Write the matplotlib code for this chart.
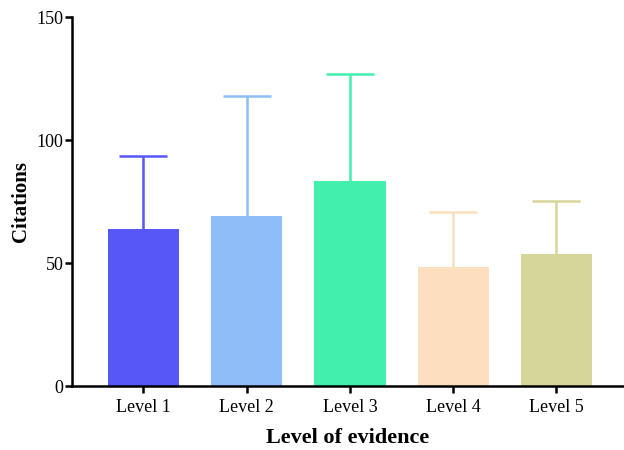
import numpy as np
import matplotlib
matplotlib.use("Agg")
import matplotlib.pyplot as plt

# Adatok
levels = ["Level 1", "Level 2", "Level 3", "Level 4", "Level 5"]
means = [63.7, 69.3, 83.3, 48.5, 53.8]
upper = [93.6, 117.8, 126.9, 70.7, 75.2]   # hibasáv teteje
colors = ["#5757F8", "#8FBDF7", "#42EFAD", "#FDDEBF", "#D6D69A"]

plt.rcParams['font.family'] = ['Liberation Serif', 'DejaVu Serif']

fig = plt.figure(figsize=(6.24, 4.5), dpi=100)
ax = fig.add_axes([0.1154, 0.142, 0.884, 0.820])

x = np.arange(len(levels))
err = np.array(upper) - np.array(means)
ax.bar(x, means, width=0.69, color=colors, zorder=2)
for i in range(len(x)):
    eb = ax.errorbar(x[i], means[i], yerr=[[0], [err[i]]], fmt='none',
                     ecolor=colors[i], elinewidth=1.8, capsize=17,
                     capthick=1.8, zorder=1)
    # csak a felső sapka maradjon
    for cl in eb[1]:
        if abs(cl.get_ydata()[0] - means[i]) < 1e-6:
            cl.set_visible(False)

# Tengelyek
ax.set_xlim(-0.69, 4.65)
ax.set_ylim(0, 150)
ax.set_yticks([0, 50, 100, 150])
ax.set_xticks(x)
ax.set_xticklabels(levels, fontsize=13)
ax.tick_params(axis='y', labelsize=13, width=1.8, length=5, pad=1)
ax.tick_params(axis='x', width=1.8, length=5, pad=4)

for s in ['top', 'right']:
    ax.spines[s].set_visible(False)
for s in ['left', 'bottom']:
    ax.spines[s].set_linewidth(1.8)

ax.set_ylabel('Citations', fontsize=15, fontweight='bold', labelpad=4)
ax.set_xlabel('Level of evidence', fontsize=16, fontweight='bold', labelpad=9)

fig.savefig("out.png", dpi=100)
